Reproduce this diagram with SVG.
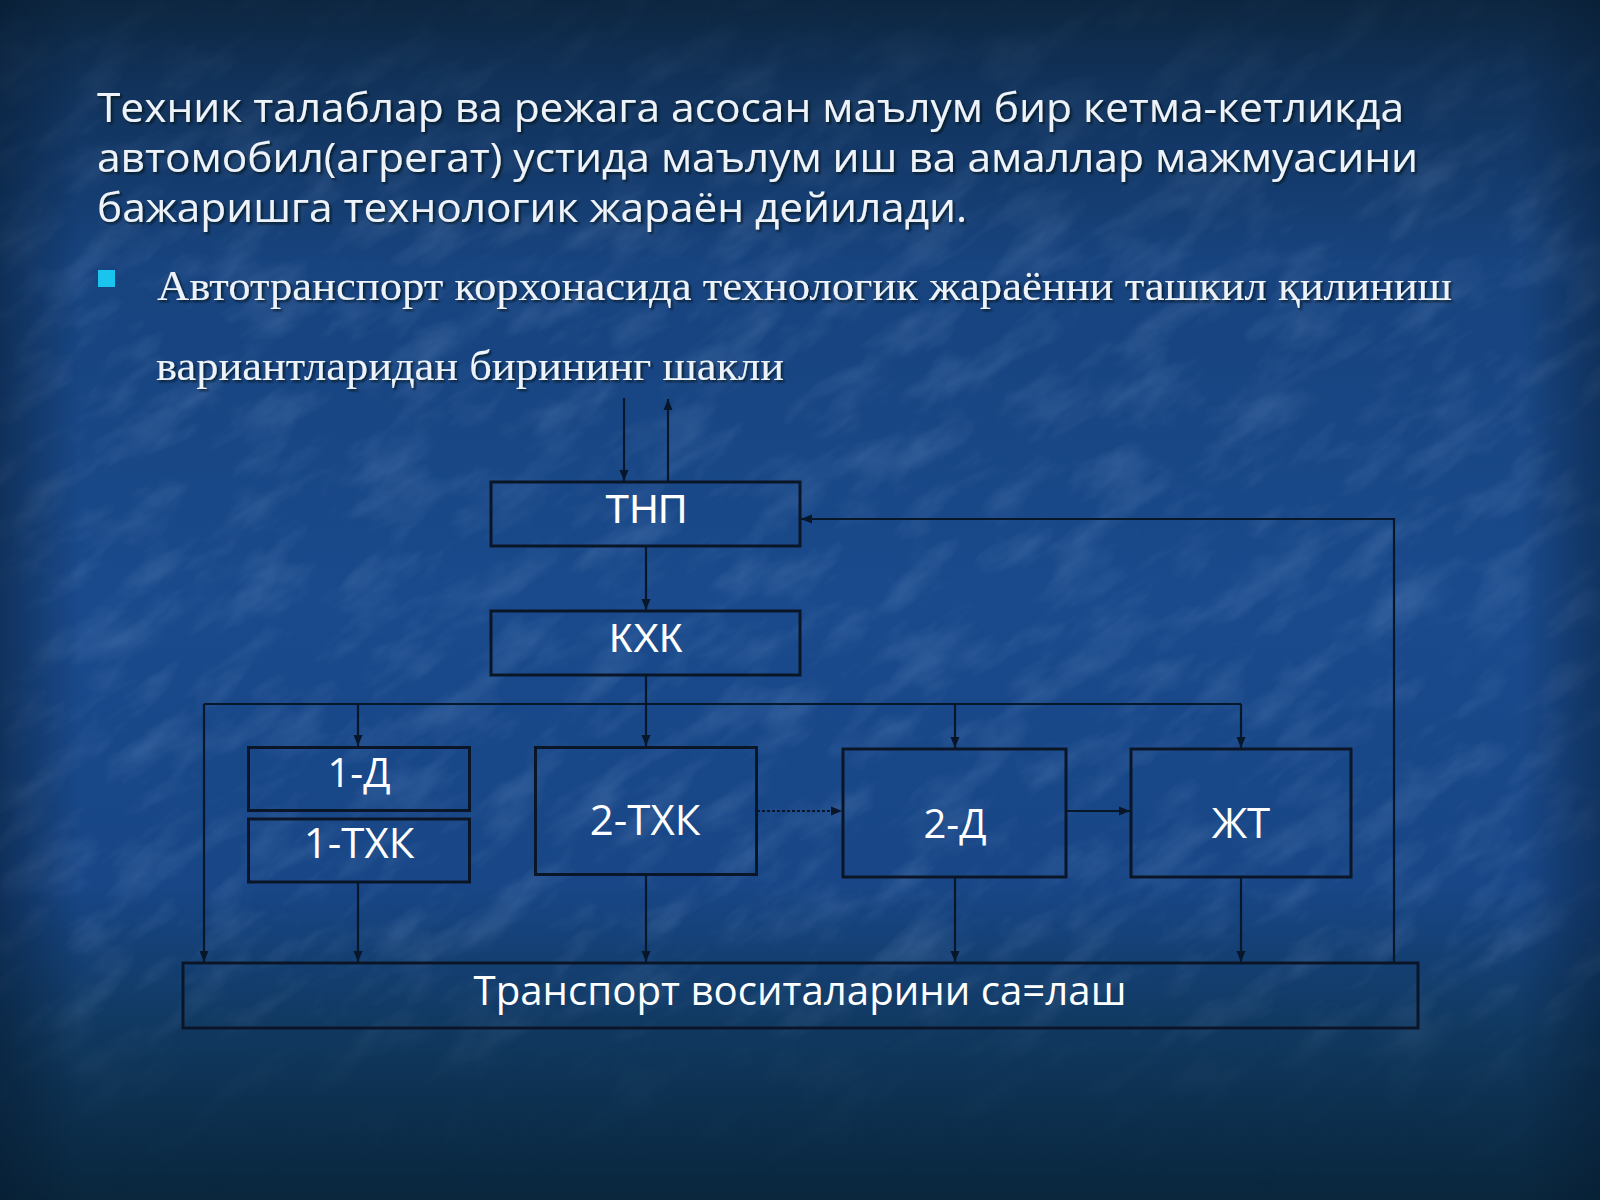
<svg xmlns="http://www.w3.org/2000/svg" width="1600" height="1200" viewBox="0 0 1600 1200">
  <defs>
    <linearGradient id="bg" x1="0" y1="0" x2="0" y2="1">
      <stop offset="0" stop-color="#0d2640"/>
      <stop offset="0.07" stop-color="#11325a"/>
      <stop offset="0.22" stop-color="#17437e"/>
      <stop offset="0.5" stop-color="#1a4a8c"/>
      <stop offset="0.74" stop-color="#184686"/>
      <stop offset="0.86" stop-color="#10385f"/>
      <stop offset="1" stop-color="#09263c"/>
    </linearGradient>
    <linearGradient id="sideL" x1="0" y1="0" x2="1" y2="0">
      <stop offset="0" stop-color="#061a30" stop-opacity="0.5"/>
      <stop offset="0.05" stop-color="#061a30" stop-opacity="0"/>
      <stop offset="0.95" stop-color="#061a30" stop-opacity="0"/>
      <stop offset="1" stop-color="#061a30" stop-opacity="0.45"/>
    </linearGradient>
    <linearGradient id="fadeTex" x1="0" y1="0" x2="0" y2="1">
      <stop offset="0" stop-color="#fff" stop-opacity="0.2"/>
      <stop offset="0.2" stop-color="#fff" stop-opacity="1"/>
      <stop offset="0.8" stop-color="#fff" stop-opacity="1"/>
      <stop offset="0.9" stop-color="#fff" stop-opacity="0.2"/>
      <stop offset="1" stop-color="#fff" stop-opacity="0"/>
    </linearGradient>
    <mask id="texMask">
      <rect x="0" y="0" width="1600" height="1200" fill="url(#fadeTex)"/>
    </mask>
    <filter id="tex" x="0" y="0" width="100%" height="100%">
      <feTurbulence type="fractalNoise" baseFrequency="0.012 0.03" numOctaves="4" seed="11" result="n"/>
      <feColorMatrix in="n" type="matrix" values="0 0 0 0 0.55  0 0 0 0 0.72  0 0 0 0 1  0 0 0 1.4 -0.62"/>
    </filter>
    <filter id="shadow" x="-5%" y="-20%" width="110%" height="150%">
      <feDropShadow dx="2" dy="2" stdDeviation="1.2" flood-color="#000814" flood-opacity="0.7"/>
    </filter>
    <marker id="arr" markerUnits="userSpaceOnUse" markerWidth="12" markerHeight="10" refX="11" refY="5" orient="auto">
      <path d="M0,0.5 L11,5 L0,9.5 z" fill="#08162a"/>
    </marker>
    <style>
      .title { font-family: "Open Sans", "Noto Sans", sans-serif; font-size: 40px; fill: #eef3fa; }
      .bul { font-family: "Liberation Serif", "DejaVu Serif", serif; font-size: 42px; fill: #eef3fa; }
      .box { fill: none; stroke: #0a1628; stroke-width: 3; }
      .lbl { font-family: "Open Sans", "Noto Sans", sans-serif; font-size: 40px; fill: #ffffff; text-anchor: middle; }
      .lblL { font-family: "Open Sans", "Noto Sans", sans-serif; font-size: 42px; fill: #ffffff; text-anchor: middle; }
      .lblA { font-family: "Liberation Sans", Arial, sans-serif; font-size: 40px; fill: #ffffff; text-anchor: middle; }
      .con { fill: none; stroke: #08162a; stroke-width: 2.2; }
      .dot { stroke-dasharray: 3 2; }
    </style>
  </defs>

  <!-- background -->
  <rect x="0" y="0" width="1600" height="1200" fill="url(#bg)"/>
  <g mask="url(#texMask)">
    <g transform="rotate(-35 800 600)" opacity="0.22">
      <rect x="-500" y="-500" width="2600" height="2200" filter="url(#tex)"/>
    </g>
  </g>
  <rect x="0" y="0" width="1600" height="1200" fill="url(#sideL)"/>

  <!-- heading text -->
  <g id="heading" filter="url(#shadow)">
    <text class="title" x="97" y="122" textLength="1307" lengthAdjust="spacingAndGlyphs">Техник талаблар ва режага асосан маълум бир кетма-кетликда</text>
    <text class="title" x="97" y="172" textLength="1321" lengthAdjust="spacingAndGlyphs">автомобил(агрегат) устида маълум иш ва амаллар мажмуасини</text>
    <text class="title" x="97" y="222" textLength="870" lengthAdjust="spacingAndGlyphs">бажаришга технологик жараён дейилади.</text>
  </g>

  <g id="bullet">
    <rect x="98" y="270" width="17" height="17" fill="#19c4ee"/>
    <g filter="url(#shadow)">
      <text class="bul" x="157" y="300" textLength="1295" lengthAdjust="spacingAndGlyphs">Автотранспорт корхонасида технологик жараённи ташкил қилиниш</text>
      <text class="bul" x="156" y="380" textLength="628" lengthAdjust="spacingAndGlyphs">вариантларидан бирининг шакли</text>
    </g>
  </g>

  <!-- nodes -->
  <g id="node-tnp">
    <rect class="box" x="491" y="482" width="309" height="64"/>
    <text class="lblA" x="646" y="523">ТНП</text>
  </g>
  <g id="node-kxk">
    <rect class="box" x="491" y="611" width="309" height="64"/>
    <text class="lblA" x="646" y="652">КХК</text>
  </g>
  <g id="node-1d">
    <rect class="box" x="248.5" y="747.5" width="221" height="63"/>
    <text class="lbl" x="359" y="787">1-Д</text>
  </g>
  <g id="node-1txk">
    <rect class="box" x="248.5" y="819" width="221" height="63"/>
    <text class="lblL" x="359" y="858">1-ТХК</text>
  </g>
  <g id="node-2txk">
    <rect class="box" x="535.5" y="747.5" width="221" height="127"/>
    <text class="lblL" x="645" y="835">2-ТХК</text>
  </g>
  <g id="node-2d">
    <rect class="box" x="843" y="749" width="223" height="128"/>
    <text class="lbl" x="955" y="838">2-Д</text>
  </g>
  <g id="node-jt">
    <rect class="box" x="1131" y="749" width="220" height="128"/>
    <text class="lblL" x="1241" y="838">ЖТ</text>
  </g>
  <g id="node-transport">
    <rect class="box" x="183" y="963" width="1235" height="65"/>
    <text class="lbl" x="800" y="1005" textLength="653" lengthAdjust="spacingAndGlyphs">Транспорт воситаларини са=лаш</text>
  </g>

  <!-- connectors -->
  <g id="connectors">
    <line class="con" x1="624" y1="398" x2="624" y2="481" marker-end="url(#arr)"/>
    <line class="con" x1="668" y1="481" x2="668" y2="399" marker-end="url(#arr)"/>
    <line class="con" x1="646" y1="546" x2="646" y2="610" marker-end="url(#arr)"/>
    <line class="con" x1="646" y1="675" x2="646" y2="746" marker-end="url(#arr)"/>
    <line class="con" x1="204" y1="704" x2="1241" y2="704"/>
    <line class="con" x1="358" y1="704" x2="358" y2="746" marker-end="url(#arr)"/>
    <line class="con" x1="955" y1="704" x2="955" y2="748" marker-end="url(#arr)"/>
    <line class="con" x1="1241" y1="704" x2="1241" y2="748" marker-end="url(#arr)"/>
    <line class="con" x1="204" y1="704" x2="204" y2="962" marker-end="url(#arr)"/>
    <line class="con" x1="358" y1="882" x2="358" y2="962" marker-end="url(#arr)"/>
    <line class="con" x1="646" y1="874" x2="646" y2="962" marker-end="url(#arr)"/>
    <line class="con" x1="955" y1="877" x2="955" y2="962" marker-end="url(#arr)"/>
    <line class="con" x1="1241" y1="877" x2="1241" y2="962" marker-end="url(#arr)"/>
    <line class="con dot" x1="757" y1="811" x2="842" y2="811" marker-end="url(#arr)"/>
    <line class="con" x1="1066" y1="811" x2="1130" y2="811" marker-end="url(#arr)"/>
    <polyline class="con" points="1394,963 1394,519 801,519" marker-end="url(#arr)"/>
  </g>
</svg>
